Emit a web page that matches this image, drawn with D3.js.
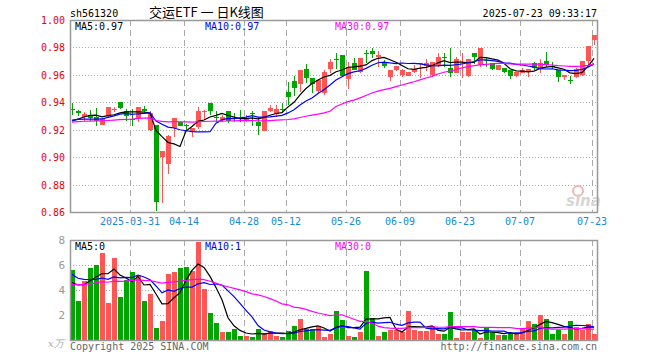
<!DOCTYPE html>
<html>
<head>
<meta charset="utf-8">
<script src="https://d3js.org/d3.v7.min.js" charset="utf-8"></script>
<style type="text/css">
	body {
		margin: 0;
		background-color: white;
	}
	text {
		font-family: "DejaVu Sans Mono", monospace;
		font-size: 10px;
	}
</style>
</head>
<body>
<script>
// trading days shown, 2025-03-17 .. 2025-07-23
var dates = ["03-17","03-18","03-19","03-20","03-21","03-24","03-25","03-26","03-27","03-28","03-31",
	"04-01","04-02","04-03","04-07","04-08","04-09","04-10","04-11","04-14","04-15","04-16","04-17","04-18",
	"04-21","04-22","04-23","04-24","04-25","04-28","04-29","04-30",
	"05-06","05-07","05-08","05-09","05-12","05-13","05-14","05-15","05-16","05-19","05-20","05-21","05-22","05-23",
	"05-26","05-27","05-28","05-29","05-30",
	"06-03","06-04","06-05","06-06","06-09","06-10","06-11","06-12","06-13","06-16","06-17","06-18","06-19","06-20",
	"06-23","06-24","06-25","06-26","06-27","06-30",
	"07-01","07-02","07-03","07-04","07-07","07-08","07-09","07-10","07-11","07-14","07-15","07-16","07-17","07-18",
	"07-21","07-22","07-23"];

var open  = [0.9352,0.9340,0.9293,0.9308,0.9293,0.9238,0.9303,0.9347,0.9400,0.9337,0.9280,0.9288,0.9350,0.9200,0.9235,0.9000,0.8953,0.9210,0.9259,0.9232,
	0.9186,0.9218,0.9338,0.9397,0.9292,0.9270,0.9336,0.9282,0.9285,0.9270,0.9320,0.9256,0.9192,0.9336,0.9314,0.9350,0.9474,0.9557,0.9530,0.9642,
	0.9574,0.9484,0.9470,0.9640,0.9718,0.9744,0.9567,0.9683,0.9623,0.9758,0.9776,0.9727,0.9690,0.9586,0.9635,0.9598,0.9593,0.9618,0.9678,0.9666,
	0.9598,0.9671,0.9732,0.9647,0.9610,0.9680,0.9590,0.9756,0.9671,0.9705,0.9683,0.9635,0.9652,0.9635,0.9591,0.9610,0.9618,0.9690,0.9642,0.9700,
	0.9661,0.9634,0.9581,0.9564,0.9586,0.9600,0.9703,0.9853];
var high  = [0.9395,0.9342,0.9327,0.9344,0.9356,0.9285,0.9366,0.9366,0.9400,0.9351,0.9350,0.9366,0.9370,0.9335,0.9235,0.9045,0.9165,0.9288,0.9264,0.9243,
	0.9215,0.9365,0.9344,0.9397,0.9336,0.9305,0.9336,0.9320,0.9347,0.9310,0.9336,0.9290,0.9340,0.9380,0.9380,0.9397,0.9550,0.9593,0.9635,0.9678,
	0.9574,0.9565,0.9635,0.9712,0.9756,0.9744,0.9695,0.9720,0.9720,0.9780,0.9793,0.9776,0.9705,0.9635,0.9664,0.9640,0.9623,0.9670,0.9686,0.9718,
	0.9695,0.9756,0.9756,0.9793,0.9732,0.9756,0.9712,0.9763,0.9793,0.9720,0.9683,0.9671,0.9652,0.9635,0.9623,0.9647,0.9640,0.9695,0.9718,0.9768,
	0.9695,0.9634,0.9598,0.9590,0.9647,0.9700,0.9812,0.9890];
var low   = [0.9310,0.9303,0.9264,0.9264,0.9230,0.9232,0.9283,0.9327,0.9350,0.9264,0.9230,0.9259,0.9327,0.9190,0.8605,0.8668,0.8880,0.9145,0.9225,0.9190,
	0.9150,0.9205,0.9270,0.9306,0.9258,0.9258,0.9250,0.9258,0.9258,0.9258,0.9226,0.9160,0.9190,0.9328,0.9294,0.9323,0.9380,0.9445,0.9477,0.9537,
	0.9470,0.9470,0.9455,0.9615,0.9640,0.9593,0.9500,0.9635,0.9615,0.9683,0.9725,0.9660,0.9647,0.9557,0.9630,0.9588,0.9590,0.9610,0.9580,0.9625,
	0.9586,0.9660,0.9660,0.9586,0.9610,0.9574,0.9586,0.9680,0.9660,0.9660,0.9635,0.9635,0.9610,0.9567,0.9581,0.9610,0.9581,0.9635,0.9615,0.9657,
	0.9640,0.9550,0.9562,0.9530,0.9580,0.9593,0.9666,0.9817];
var close = [0.9347,0.9320,0.9315,0.9288,0.9264,0.9280,0.9364,0.9350,0.9356,0.9303,0.9276,0.9366,0.9340,0.9325,0.8670,0.9045,0.9155,0.9288,0.9230,0.9230,
	0.9215,0.9340,0.9340,0.9338,0.9290,0.9290,0.9262,0.9280,0.9282,0.9287,0.9318,0.9226,0.9338,0.9360,0.9350,0.9348,0.9435,0.9506,0.9635,0.9580,
	0.9530,0.9560,0.9618,0.9695,0.9712,0.9593,0.9659,0.9635,0.9720,0.9754,0.9751,0.9744,0.9666,0.9635,0.9664,0.9635,0.9623,0.9640,0.9684,0.9688,
	0.9695,0.9732,0.9720,0.9610,0.9712,0.9688,0.9712,0.9732,0.9793,0.9701,0.9642,0.9671,0.9618,0.9591,0.9623,0.9635,0.9640,0.9647,0.9690,0.9671,
	0.9659,0.9586,0.9598,0.9560,0.9640,0.9700,0.9812,0.9890];
// volume, 万手
var volume = [5.6,3.1,4.7,5.8,6.0,7.0,3.0,6.56,3.47,4.8,5.44,5.2,3.1,3.7,0.96,1.52,5.28,5.44,5.76,5.84,
	5.52,7.84,4.08,2.16,1.36,0.64,0.64,0.88,0.32,0.32,0.24,0.88,0.56,0.72,0.32,0.24,0.72,1.12,1.68,0.88,
	0.88,1.12,0.24,0.48,2.32,1.6,0.32,0.24,0.64,5.52,1.76,0.32,0.64,0.8,0.8,0.64,2.32,0.8,0.72,0.72,
	1.12,0.48,0.48,2.24,0.16,0.64,0.64,0.8,0.16,0.96,0.64,0.4,0.4,0.56,0.48,0.96,1.52,1.28,2.0,1.68,
	0.48,0.8,0.48,1.52,1.04,0.8,1.28,0.48];

// earlier sessions (not drawn), only feed the moving averages at the left edge
var priorClose = [0.921,0.923,0.925,0.924,0.926,0.928,0.927,0.925,0.923,0.922,0.924,0.926,0.927,0.925,0.924,
	0.926,0.925,0.924,0.926,0.925,0.927,0.929,0.928,0.927,0.927,0.925,0.924,0.923,0.925];
var priorVolume = [3.8,4.2,4.5,3.6,4.0,4.4,3.9,4.1,4.3,3.7,4.0,4.2,3.9,4.4,4.1,
	3.8,4.2,4.0,3.9,4.0,6.2,5.6,6.0,5.8,5.9,4.1,4.6,4.2,4.5];

var tickDates = ["03-31","04-14","04-28","05-12","05-26","06-09","06-23","07-07","07-23"];
var tickLabels = ["2025-03-31","04-14","04-28","05-12","05-26","06-09","06-23","07-07","07-23"];
var priceTicks = [1.00,0.98,0.96,0.94,0.92,0.90,0.88,0.86];
var volTicks = [8,6,4,2];
var maPeriods = [5,10,30];
var maColors = ["#000000","#0000ff","#ff00ff"];
var priceMaLabels = ["MA5:0.97","MA10:0.97","MA30:0.97"];
var volMaLabels = ["MA5:0","MA10:1","MA30:0"];

var red = "#ff5555", green = "#00a600";

var w = 660, h = 360;
var left = 70, right = 597;
var pTop = 20, pBot = 212, vTop = 240, vBot = 340;

var svg = d3.select("body").append("svg")
	.attr("width", w)
	.attr("height", h);

var x = d3.scalePoint().domain(dates).range([72, 594]);
var y = d3.scaleLinear().domain([0.86, 1.00]).range([pBot, pTop]);
var yv = d3.scaleLinear().domain([0, 8]).range([vBot, vTop]);

function px(d) { return Math.round(x(d)); }

function movingAvg(values, prior, n) {
	var all = prior.concat(values);
	var off = prior.length;
	return values.map(function(v, i) {
		return d3.mean(all.slice(off + i - n + 1, off + i + 1));
	});
}

// header
svg.append("text").attr("x", 70).attr("y", 17).text("sh561320");
svg.append("text").attr("x", 149).attr("y", 17)
	.attr("xml:space", "preserve")
	.style("font-family", "'Noto Sans CJK SC', sans-serif")
	.style("font-size", "13px")
	.text("交运ETF 一 日K线图");
svg.append("text").attr("x", 597).attr("y", 17).attr("text-anchor", "end").text("2025-07-23 09:33:17");

// grids
var grid = svg.append("g").attr("shape-rendering", "crispEdges");
grid.selectAll(".hp").data(priceTicks.slice(1, -1)).enter().append("line")
	.attr("x1", left).attr("x2", right)
	.attr("y1", function(d) { return Math.round(y(d)) + 0.5; })
	.attr("y2", function(d) { return Math.round(y(d)) + 0.5; })
	.attr("stroke", "#aaa").attr("stroke-dasharray", "1,2");
grid.selectAll(".hv").data(volTicks.slice(1)).enter().append("line")
	.attr("x1", left).attr("x2", right)
	.attr("y1", function(d) { return Math.round(yv(d)) + 0.5; })
	.attr("y2", function(d) { return Math.round(yv(d)) + 0.5; })
	.attr("stroke", "#aaa").attr("stroke-dasharray", "1,2");
[[pTop, pBot], [vTop, vBot]].forEach(function(r) {
	grid.selectAll(null).data(tickDates).enter().append("line")
		.attr("x1", function(d) { return px(d) - 1.5; })
		.attr("x2", function(d) { return px(d) - 1.5; })
		.attr("y1", r[0]).attr("y2", r[1])
		.attr("stroke", "#aaa").attr("stroke-width", 1.3).attr("stroke-dasharray", "6,4");
});

// axes labels
svg.selectAll(".pl").data(priceTicks).enter().append("text")
	.attr("x", 65).attr("y", function(d) { return y(d) + 4; })
	.attr("text-anchor", "end").attr("fill", "#ee0000")
	.text(function(d) { return d.toFixed(2); });
svg.selectAll(".vl").data(volTicks).enter().append("text")
	.attr("x", 65).attr("y", function(d) { return yv(d) + 4; })
	.attr("text-anchor", "end").attr("fill", "#999")
	.style("font-size", "11px")
	.text(function(d) { return d; });
svg.selectAll(".xl").data(tickDates).enter().append("text")
	.attr("x", function(d) { return px(d) - 2; }).attr("y", 225)
	.attr("text-anchor", "middle").attr("fill", "#1a88d8")
	.text(function(d, i) { return tickLabels[i]; });

// watermark
svg.append("circle").attr("cx", 578).attr("cy", 191).attr("r", 5)
	.attr("fill", "none").attr("stroke", "#f3b4b4").attr("stroke-width", 2);
svg.append("text").attr("x", 566).attr("y", 206)
	.style("font-family", "'DejaVu Sans', sans-serif").style("font-size", "15px")
	.style("font-style", "italic").style("font-weight", "bold")
	.attr("fill", "#d6d6d6").text("sina");

// candles
var idx = d3.range(dates.length);
function col(i) { return close[i] >= open[i] ? red : green; }
var cg = svg.append("g").attr("shape-rendering", "crispEdges");
cg.selectAll(".wick").data(idx).enter().append("line")
	.attr("x1", function(i) { return px(dates[i]) + 0.5; })
	.attr("x2", function(i) { return px(dates[i]) + 0.5; })
	.attr("y1", function(i) { return y(high[i]); })
	.attr("y2", function(i) { return y(low[i]); })
	.attr("stroke", col);
cg.selectAll(".body").data(idx).enter().append("rect")
	.attr("x", function(i) { return px(dates[i]) - 2; })
	.attr("width", 5)
	.attr("y", function(i) { return y(Math.max(open[i], close[i])); })
	.attr("height", function(i) { return Math.max(1, Math.abs(y(open[i]) - y(close[i]))); })
	.attr("fill", col);

// volume bars
cg.selectAll(".vol").data(idx).enter().append("rect")
	.attr("x", function(i) { return px(dates[i]) - 2; })
	.attr("width", 5)
	.attr("y", function(i) { return yv(volume[i]); })
	.attr("height", function(i) { return vBot - yv(volume[i]); })
	.attr("fill", col);

// moving averages
maPeriods.forEach(function(n, k) {
	var pm = movingAvg(close, priorClose, n);
	var vm = movingAvg(volume, priorVolume, n);
	svg.append("path")
		.attr("d", d3.line().x(function(d, i) { return x(dates[i]); }).y(function(d) { return y(d); })(pm))
		.attr("fill", "none").attr("stroke", maColors[k]).attr("stroke-width", 1.2);
	svg.append("path")
		.attr("d", d3.line().x(function(d, i) { return x(dates[i]); }).y(function(d) { return yv(d); })(vm))
		.attr("fill", "none").attr("stroke", maColors[k]).attr("stroke-width", 1.2);
	svg.append("text").attr("x", 75 + 130 * k).attr("y", 30).attr("fill", maColors[k]).text(priceMaLabels[k]);
	svg.append("text").attr("x", 75 + 130 * k).attr("y", 250).attr("fill", maColors[k]).text(volMaLabels[k]);
});

// frames
svg.append("rect").attr("x", left + 0.5).attr("y", pTop + 0.5)
	.attr("width", right - left).attr("height", pBot - pTop)
	.attr("fill", "none").attr("stroke", "#999").attr("stroke-width", 1.5);
svg.append("rect").attr("x", left + 0.5).attr("y", vTop + 0.5)
	.attr("width", right - left).attr("height", vBot - vTop)
	.attr("fill", "none").attr("stroke", "#999").attr("stroke-width", 1.5);

// footer
svg.append("text").attr("x", 48).attr("y", 347).attr("fill", "#aaa")
	.style("font-family", "'DejaVu Serif', serif").style("font-style", "italic").style("font-size", "10px")
	.text("x万");
svg.append("text").attr("x", 70).attr("y", 350).attr("fill", "#666").text("Copyright 2025 SINA.COM");
svg.append("text").attr("x", 597).attr("y", 350).attr("text-anchor", "end").attr("fill", "#666").text("http://finance.sina.com.cn");
</script>
</body>
</html>
